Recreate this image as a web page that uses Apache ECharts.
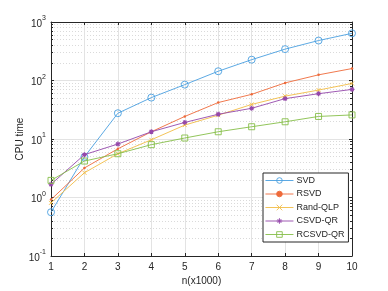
<!DOCTYPE html>
<html>
<head>
<meta charset="utf-8">
<script src="https://cdn.jsdelivr.net/npm/echarts@6/dist/echarts.min.js"></script>
<style>html,body{margin:0;padding:0;background:#fff;}#c{width:388px;height:291px;}</style>
</head>
<body>
<div id="c"></div>
<script>
const nValues = [1, 2, 3, 4, 5, 6, 7, 8, 9, 10];
const svd = [0.56, 4.95, 27.6, 51, 85, 144, 227, 344, 482, 640];
const rsvd = [0.92, 3.2, 6.8, 13.3, 24.3, 42, 58, 91, 125, 160];
const randQLP = [0.81, 2.65, 5.6, 9.7, 17.3, 25.5, 39, 54, 68.6, 89];
const csvdQR = [1.68, 5.4, 8.2, 13.3, 19.2, 26.5, 33.5, 49, 59.5, 70.4];
const rcsvdQR = [1.96, 4.2, 5.6, 8.0, 10.4, 13.3, 16.2, 19.7, 24.3, 25.8];
const seriesNames = ['SVD', 'RSVD', 'Rand-QLP', 'CSVD-QR', 'RCSVD-QR'];

const colors = ['#4a9fe0', '#ee6a3a', '#f2bc45', '#9447aa', '#86be48'];
const axisColor = '#262626';

function pair(arr) { return nValues.map((n, i) => [n, arr[i]]); }

const xPath = 'path://M0,0L10,10M10,0L0,10';
const starPath = 'path://M5,0L5,10M0,5L10,5M1.5,1.5L8.5,8.5M8.5,1.5L1.5,8.5';

const chart = echarts.init(document.getElementById('c'), null, {renderer: 'canvas'});

const baseX = {
  type: 'value', min: 1, max: 10, interval: 1,
  axisLine: {show: true, onZero: false, lineStyle: {color: axisColor, width: 1}},
  axisTick: {show: true, inside: true, length: 3, lineStyle: {color: axisColor}},
};
const baseY = {
  type: 'log', logBase: 10, min: 0.1, max: 1000,
  axisLine: {show: true, onZero: false, lineStyle: {color: axisColor, width: 1}},
  axisTick: {show: true, inside: true, length: 3, lineStyle: {color: axisColor}},
  minorTick: {show: true, splitNumber: 9, length: 2, lineStyle: {color: axisColor}},
};

function mk(name, data, idx, symbol, size, bw, hollow) {
  return {
    name: name, type: 'line', data: pair(data),
    xAxisIndex: 0, yAxisIndex: 0,
    symbol: symbol, symbolSize: size, showAllSymbol: true,
    lineStyle: {color: colors[idx], width: 0.9},
    itemStyle: {color: hollow ? 'rgba(255,255,255,0)' : colors[idx], borderColor: colors[idx], borderWidth: bw},
    emphasis: {disabled: true}, animation: false, z: 3 + idx
  };
}

chart.setOption({
  animation: false,
  textStyle: {fontFamily: 'Liberation Sans, Arial, sans-serif'},
  grid: {left: 51, right: 36, top: 22, bottom: 33, containLabel: false},
  xAxis: [
    Object.assign({}, baseX, {
      position: 'bottom',
      name: 'n(x1000)', nameLocation: 'middle', nameGap: 20, nameMoveOverlap: false,
      nameTextStyle: {color: axisColor, fontSize: 10, verticalAlign: 'top'},
      axisLabel: {color: axisColor, fontSize: 10, margin: 6},
      splitLine: {show: true, lineStyle: {color: '#e3e3e3', width: 1}}
    }),
    Object.assign({}, baseX, {
      position: 'top',
      axisLabel: {show: false},
      splitLine: {show: false}
    })
  ],
  yAxis: [
    Object.assign({}, baseY, {
      position: 'left',
      name: 'CPU time', nameLocation: 'middle', nameGap: 26, nameRotate: 90, nameMoveOverlap: false,
      nameTextStyle: {color: axisColor, fontSize: 10},
      axisLabel: {
        color: axisColor, fontSize: 10, margin: 5,
        formatter: function (v) {
          const e = Math.round(Math.log10(v));
          return '{b|10}{s|' + e + '}';
        },
        rich: {
          b: {fontSize: 10, color: axisColor, padding: [4, 0, 0, 0]},
          s: {fontSize: 7, color: axisColor, verticalAlign: 'top', padding: [0, 0, 6, 0]}
        }
      },
      splitLine: {show: true, lineStyle: {color: '#e3e3e3', width: 1}},
      minorSplitLine: {show: true, lineStyle: {color: '#dadada', width: 1, type: [1, 2]}}
    }),
    Object.assign({}, baseY, {
      position: 'right',
      axisLabel: {show: false},
      splitLine: {show: false},
      minorSplitLine: {show: false}
    })
  ],
  legend: {
    orient: 'vertical', left: 263, top: 173,
    itemWidth: 28, itemHeight: 7, itemGap: 4.5,
    padding: [3, 4, 3, 2],
    backgroundColor: '#fff',
    borderColor: axisColor, borderWidth: 1, borderRadius: 0,
    itemStyle: {borderWidth: 0.9},
    lineStyle: {width: 0.9},
    textStyle: {color: axisColor, fontSize: 9, padding: [0, 0, 0, -2]},
    data: seriesNames
  },
  series: [
    mk('SVD', svd, 0, 'circle', 7, 0.9, true),
    mk('RSVD', rsvd, 1, 'circle', 2.5, 0, false),
    mk('Rand-QLP', randQLP, 2, xPath, 4, 0.9, false),
    mk('CSVD-QR', csvdQR, 3, starPath, 5, 1.1, false),
    mk('RCSVD-QR', rcsvdQR, 4, 'rect', 6, 0.9, true)
  ]
});
</script>
</body>
</html>
